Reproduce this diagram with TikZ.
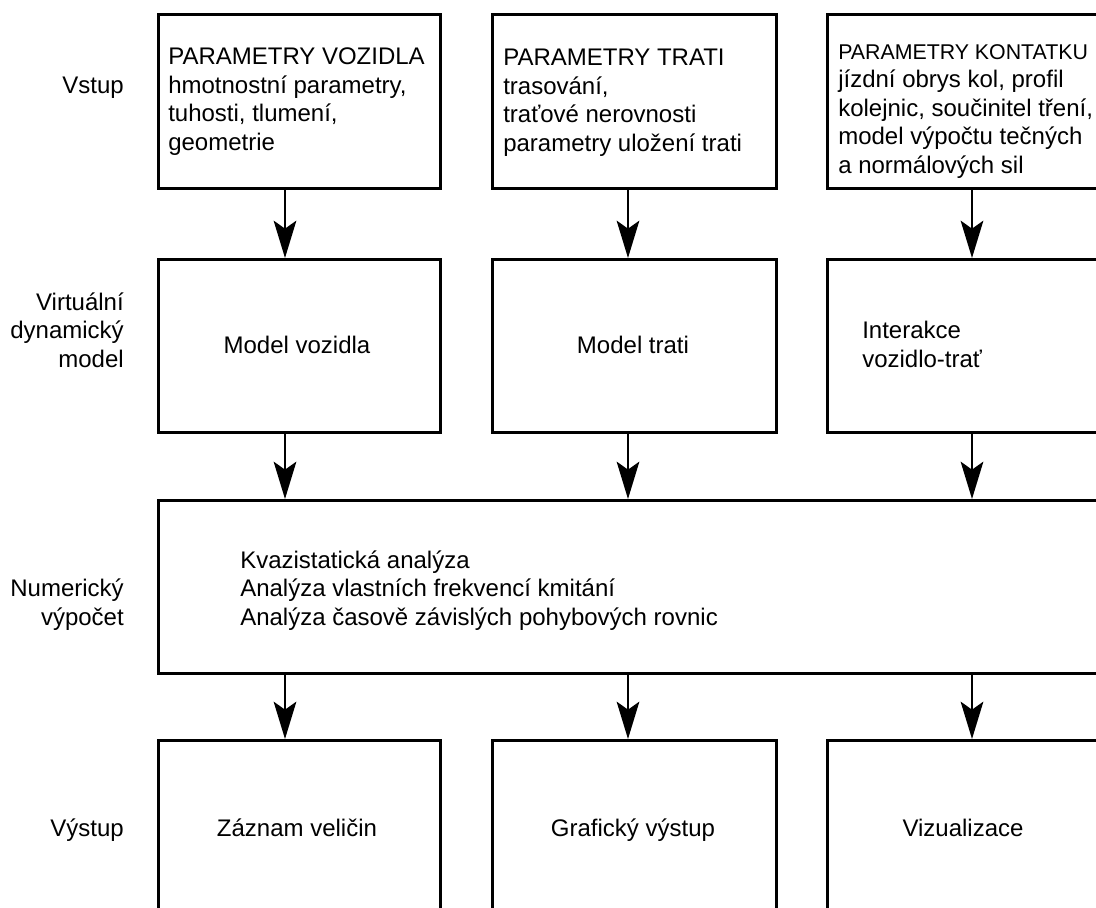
\documentclass[tikz,border=0pt]{standalone}
\usepackage{fontspec}
\setmainfont{Liberation Sans}
\usetikzlibrary{arrows.meta}
\tikzset{
  box/.style={draw, line width=2.25pt, inner sep=0pt, anchor=north west},
  txt/.style={inner sep=0pt, font=\fontsize{18}{21.3}\selectfont},
  arr/.style={line width=1.5pt, -{Stealth[length=28pt, width=17pt, inset=6pt]}},
}
\begin{document}
\begin{tikzpicture}[x=0.75pt, y=-0.75pt]
\useasboundingbox (0,0) rectangle (1096,907);
\fill[white] (0,0) rectangle (1096,907);

% boxes
\node[box, minimum width=211.5pt, minimum height=130.5pt] (b11) at (157,13) {};
\node[box, minimum width=213pt,   minimum height=130.5pt] (b12) at (491,13) {};
\node[box, minimum width=220.5pt, minimum height=130.5pt] (b13) at (826,13) {};
\node[box, minimum width=211.5pt, minimum height=129.75pt] (b21) at (157,258) {};
\node[box, minimum width=213pt,   minimum height=129.75pt] (b22) at (491,258) {};
\node[box, minimum width=220.5pt, minimum height=129.75pt] (b23) at (826,258) {};
\node[box, minimum width=722.25pt, minimum height=129.75pt] (b3) at (157,499) {};
\node[box, minimum width=211.5pt, minimum height=143.25pt] (b41) at (157,739) {};
\node[box, minimum width=213pt,   minimum height=143.25pt] (b42) at (491,739) {};
\node[box, minimum width=220.5pt, minimum height=143.25pt] (b43) at (826,739) {};

% arrow columns
\coordinate (c1) at (285,0);
\coordinate (c2) at (628,0);
\coordinate (c3) at (972,0);

\draw[arr] (b11.south -| c1) -- (b21.north -| c1);
\draw[arr] (b12.south -| c2) -- (b22.north -| c2);
\draw[arr] (b13.south -| c3) -- (b23.north -| c3);
\draw[arr] (b21.south -| c1) -- (b3.north -| c1);
\draw[arr] (b22.south -| c2) -- (b3.north -| c2);
\draw[arr] (b23.south -| c3) -- (b3.north -| c3);
\draw[arr] (b3.south -| c1) -- (b41.north -| c1);
\draw[arr] (b3.south -| c2) -- (b42.north -| c2);
\draw[arr] (b3.south -| c3) -- (b43.north -| c3);

% texts in boxes (base anchor = baseline of last line)
\node[txt, align=left, anchor=base west] (t11) at (168,150)
  {PARAMETRY VOZIDLA\\hmotnostní parametry,\\tuhosti, tlumení,\\geometrie};
\node[txt, align=left, anchor=base west] (t12) at (503,151)
  {PARAMETRY TRATI\\trasování,\\traťové nerovnosti\\parametry uložení trati};
\node[txt, align=left, anchor=base west] (t13) at (838,173)
  {{\fontsize{16}{18}\selectfont PARAMETRY KONTATKU}\\jízdní obrys kol, profil\\kolejnic, součinitel tření,\\model výpočtu tečných\\a normálových sil};

\node[txt, anchor=base] (t21) at (297,353) {Model vozidla};
\node[txt, anchor=base] (t22) at (633,353) {Model trati};
\node[txt, align=left, anchor=base west] (t23) at (862,367) {Interakce\\vozidlo-trať};

\node[txt, align=left, anchor=base west] (t3) at (240,625)
  {Kvazistatická analýza\\Analýza vlastních frekvencí kmitání\\Analýza časově závislých pohybových rovnic};

\node[txt, anchor=base] (t41) at (297,836) {Záznam veličin};
\node[txt, anchor=base] (t42) at (633,836) {Grafický výstup};
\node[txt, anchor=base] (t43) at (963,836) {Vizualizace};

% row labels
\node[txt, anchor=base east] (l1) at (124,93) {Vstup};
\node[txt, align=right, anchor=base east] (l2) at (124,367) {Virtuální\\dynamický\\model};
\node[txt, align=right, anchor=base east] (l3) at (124,625) {Numerický\\výpočet};
\node[txt, anchor=base east] (l4) at (124,836) {Výstup};
\end{tikzpicture}
\end{document}
